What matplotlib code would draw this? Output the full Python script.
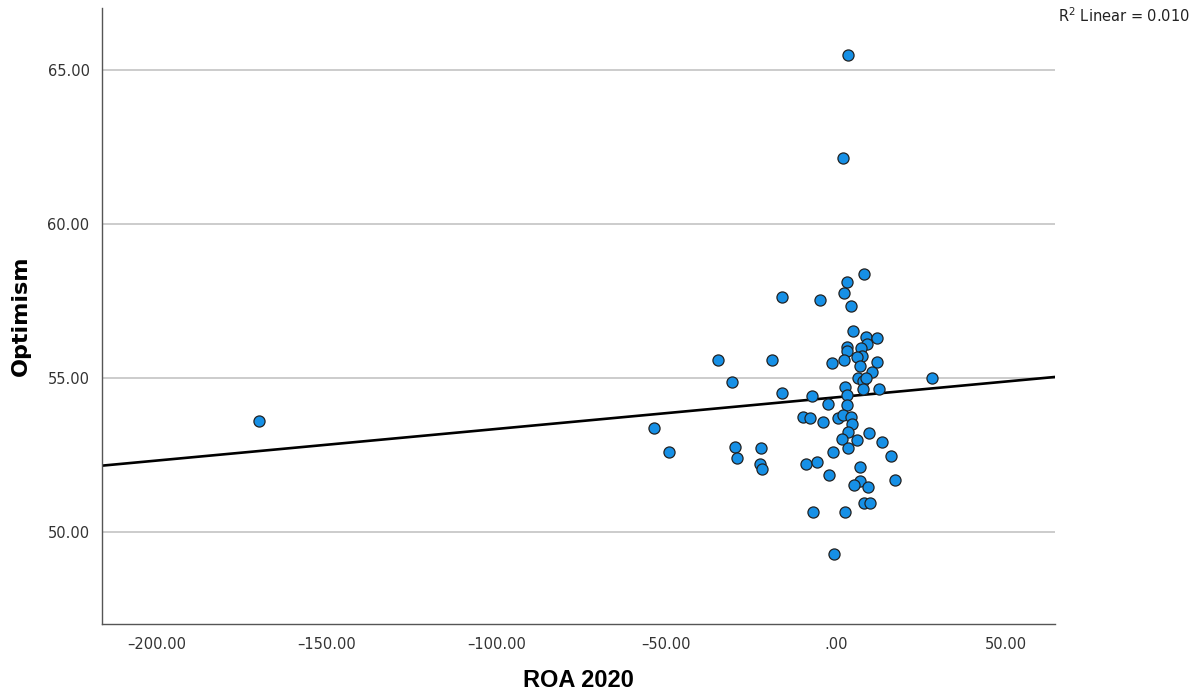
import numpy as np
import matplotlib.pyplot as plt
from matplotlib.ticker import FuncFormatter

# ROA 2020 (x) and Optimism (y)
roa_2020 = [
    -169.7, 3.6, 1.9, -53.7, -49.1, -34.8, -30.6, -29.7, -29.2, -22.1,
    -22.4, -21.9, -18.9, -16.0, -15.8, 28.2,
    8.1, 3.2, 2.4, -4.7, 4.3, 5.0, 8.8, 12.0, 9.2, 3.1,
    3.2, 7.4, 7.6, 6.1, 2.4, -1.2, 12.1, 6.9, 10.6, 6.3,
    7.9, 8.8, 2.6, 8.0, 12.7, -7.1, 3.1, -2.3, 3.1, -9.8,
    -7.6, -4.0, 0.5, 2.1, 4.3, 4.6, 3.4, 1.7, 6.1, 9.7,
    13.4, 3.6, -0.8, 16.0, -8.8, -5.6, 7.1, -2.1, 7.0, 5.3,
    9.4, 17.3, 8.2, 10.0, -6.7, 2.6, -0.5,
]
optimism = [
    53.59, 65.46, 62.13, 53.36, 52.58, 55.58, 54.87, 52.74, 52.38, 52.72,
    52.20, 52.03, 55.58, 57.63, 54.51, 54.98,
    58.36, 58.09, 57.74, 57.52, 57.33, 56.52, 56.32, 56.28, 56.09, 55.99,
    55.87, 55.96, 55.71, 55.66, 55.58, 55.49, 55.52, 55.38, 55.18, 54.98,
    54.90, 54.98, 54.70, 54.62, 54.62, 54.41, 54.42, 54.15, 54.10, 53.71,
    53.70, 53.56, 53.70, 53.79, 53.73, 53.50, 53.23, 53.02, 52.98, 53.19,
    52.92, 52.71, 52.58, 52.46, 52.20, 52.26, 52.11, 51.84, 51.65, 51.50,
    51.44, 51.67, 50.94, 50.93, 50.63, 50.64, 49.27,
]

# fitted line as shown in the chart
fit_intercept = 54.36
fit_slope = 0.01027
r2_text = "R$^2$ Linear = 0.010"

x_ticks = [-200, -150, -100, -50, 0, 50]
y_ticks = [50, 55, 60, 65]

fig = plt.figure(figsize=(12.03, 6.97), dpi=100)
ax = fig.add_axes([0.0848, 0.1047, 0.7922, 0.8838])

ax.set_xlim(-216, 64.4)
ax.set_ylim(47, 67)

ax.set_yticks(y_ticks)
ax.set_xticks(x_ticks)
ax.yaxis.grid(True, color="#c8c8c8", linewidth=1.3)
ax.set_axisbelow(True)

fx = np.array(ax.get_xlim())
ax.plot(fx, fit_intercept + fit_slope * fx, color="black", linewidth=1.9, zorder=2)

ax.scatter(roa_2020, optimism, s=64, color="#1690e6", edgecolor="#222222",
           linewidth=0.9, zorder=3)


def fmt(v, pos):
    if v == 0:
        return ".00"
    return f"{v:.2f}".replace("-", "\u2013")


ax.xaxis.set_major_formatter(FuncFormatter(fmt))
ax.yaxis.set_major_formatter(FuncFormatter(fmt))
ax.tick_params(length=0, labelsize=10.5, labelcolor="#333333", pad=9)

for side in ["top", "right"]:
    ax.spines[side].set_visible(False)
for side in ["left", "bottom"]:
    ax.spines[side].set_color("#555555")
    ax.spines[side].set_linewidth(1.0)

fig.text(0.481, 0.024, "ROA 2020", fontsize=17, fontweight="bold",
         family=["Liberation Sans Narrow", "Liberation Sans", "DejaVu Sans"],
         ha="center", va="center")
fig.text(0.017, 0.547, "Optimism", fontsize=16, fontweight="bold",
         rotation=90, ha="center", va="center")

fig.text(0.8795, 0.968, r2_text, fontsize=10.5, color="#222222")

fig.savefig("out.png", dpi=100)
